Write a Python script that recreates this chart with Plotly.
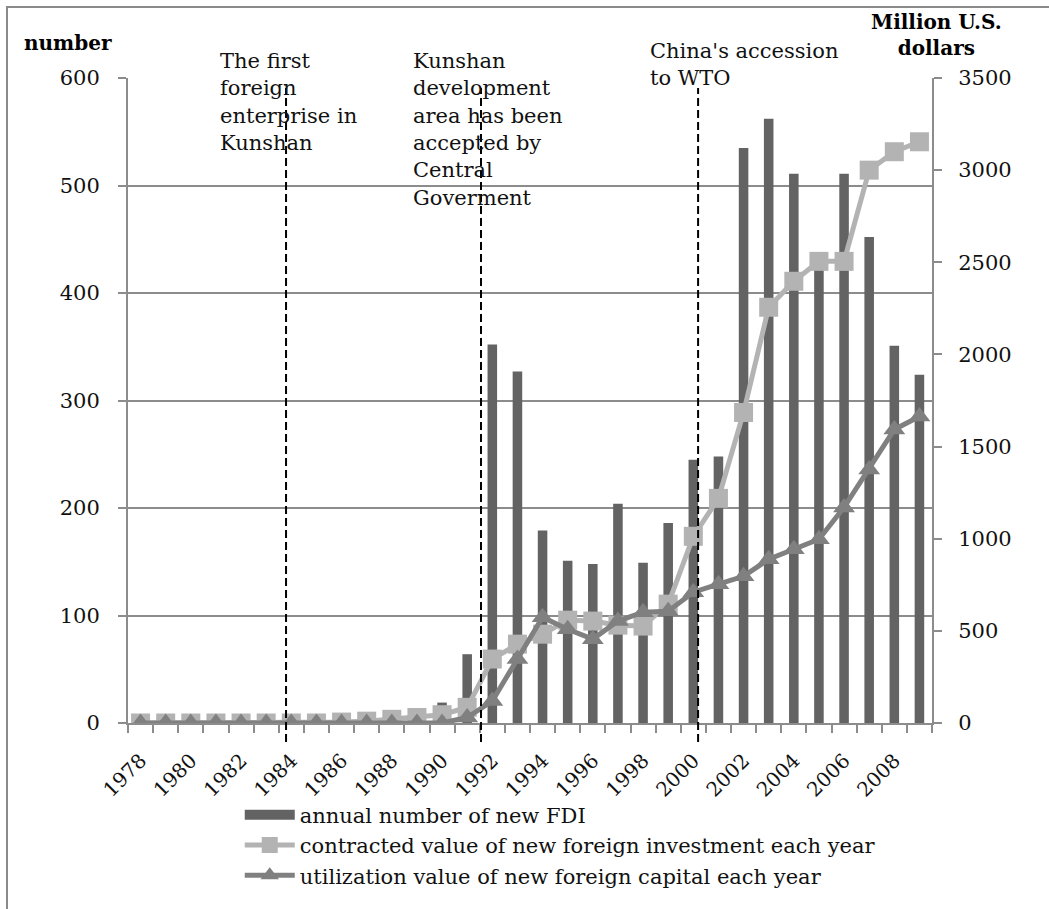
import plotly.graph_objects as go

years = [str(y) for y in range(1978, 2010)]
tick_text = [y if int(y) % 2 == 0 else "" for y in years]

fdi_number = [0, 0, 0, 0, 0, 0, 1, 1, 2, 3, 5, 11, 19, 64,
              352, 327, 179, 151, 148, 204, 149, 186, 245, 248,
              535, 562, 511, 430, 511, 452, 351, 324]
contracted_value = [0, 0, 0, 0, 0, 0, 0, 0, 5, 10, 20, 30, 45, 85,
                    347, 428, 482, 558, 553, 531, 526, 645, 1013, 1219,
                    1685, 2256, 2397, 2505, 2505, 3000, 3100, 3154]
utilized_value = [0, 0, 0, 0, 0, 0, 0, 0, 0, 0, 0, 0, 0, 30,
                  119, 347, 574, 509, 455, 553, 601, 607, 710, 753,
                  796, 889, 943, 997, 1170, 1376, 1593, 1663]

events = [
    (5.79, "The first<br>foreign<br>enterprise in<br>Kunshan", 0.112, 1.048),
    (13.55, "Kunshan<br>development<br>area has been<br>accepted by<br>Central<br>Goverment", 0.352, 1.048),
    (22.19, "China's accession<br>to WTO", 0.647, 1.064),
]

FONT = "DejaVu Serif"
GRID = "#8c8c8c"
BAR_C = "#636363"

fig = go.Figure()
fig.add_trace(go.Bar(
    x=years, y=fdi_number, name="annual number of new FDI", showlegend=False,
    marker=dict(color=BAR_C, line=dict(width=0)), width=0.38, yaxis="y"))
# legend entry for the bars (wide rectangle swatch as in the original)
fig.add_trace(go.Scatter(
    x=[None], y=[None], name="annual number of new FDI", mode="lines",
    line=dict(color=BAR_C, width=12), yaxis="y", hoverinfo="skip"))
fig.add_trace(go.Scatter(
    x=years, y=contracted_value, name="contracted value of new foreign investment each year",
    mode="lines+markers", yaxis="y2",
    line=dict(color="#b3b3b3", width=5),
    marker=dict(symbol="square", size=19, color="#b3b3b3")))
fig.add_trace(go.Scatter(
    x=years, y=utilized_value, name="utilization value of new foreign capital each year",
    mode="lines+markers", yaxis="y2",
    line=dict(color="#808080", width=5),
    marker=dict(symbol="triangle-up", size=19, color="#808080")))

shapes = [dict(type="rect", xref="paper", yref="paper", x0=-0.1505, x1=2, y0=-2, y1=1.110,
               line=dict(color="#8a8a8a", width=2), layer="below")]
annotations = []
for xpos, label, ax, ay in events:
    shapes.append(dict(type="line", xref="x", yref="paper", x0=xpos, x1=xpos,
                       y0=-0.0295, y1=0.9845,
                       line=dict(color="black", width=2, dash="8px,4px")))
    annotations.append(dict(text=label, xref="paper", yref="paper", x=ax, y=ay,
                            xanchor="left", yanchor="top", align="left", showarrow=False,
                            font=dict(family=FONT, size=21, color="#111")))
annotations.append(dict(text="<b>number</b>", xref="paper", yref="paper", x=-0.0746, y=1.054,
                        xanchor="center", yanchor="middle", showarrow=False,
                        font=dict(family=FONT, size=20, color="black")))
annotations.append(dict(text="<b>Million U.S.<br>dollars</b>", xref="paper", yref="paper",
                        x=1.006, y=1.066, xanchor="center", yanchor="middle", showarrow=False,
                        font=dict(family=FONT, size=20, color="black")))

fig.update_layout(
    width=1049, height=909, autosize=False,
    margin=dict(l=128, r=117, t=78, b=186),
    paper_bgcolor="white", plot_bgcolor="white",
    font=dict(family=FONT, size=21, color="#111"),
    xaxis=dict(type="category", tickmode="array", tickvals=years, ticktext=tick_text,
               tickson="boundaries", ticks="outside", ticklen=8, tickcolor=GRID, tickwidth=1.5,
               tickangle=-45, showline=True, linecolor=GRID, linewidth=2, showgrid=False,
               tickfont=dict(family=FONT, size=20), automargin=False, ticklabelstandoff=16,
               range=[-0.5, 31.5]),
    yaxis=dict(range=[0, 600], dtick=100, tick0=0, showgrid=True, gridcolor=GRID, gridwidth=1.5,
               showline=True, linecolor=GRID, linewidth=2, ticks="outside", ticklen=8,
               tickcolor=GRID, tickwidth=1.5, zeroline=False, ticklabelstandoff=14,
               tickfont=dict(family=FONT, size=21), automargin=False),
    yaxis2=dict(range=[0, 3500], dtick=500, tick0=0, overlaying="y", side="right",
                showgrid=False, showline=True, linecolor=GRID, linewidth=2, ticks="outside",
                ticklen=8, tickcolor=GRID, tickwidth=1.5, zeroline=False, ticklabelstandoff=12,
                tickfont=dict(family=FONT, size=21), automargin=False),
    legend=dict(x=0.139, y=-0.111, xanchor="left", yanchor="top", orientation="v",
                font=dict(family=FONT, size=21), bgcolor="rgba(0,0,0,0)",
                itemwidth=50, tracegroupgap=0),
    shapes=shapes, annotations=annotations,
)

fig.write_html("out.html")
